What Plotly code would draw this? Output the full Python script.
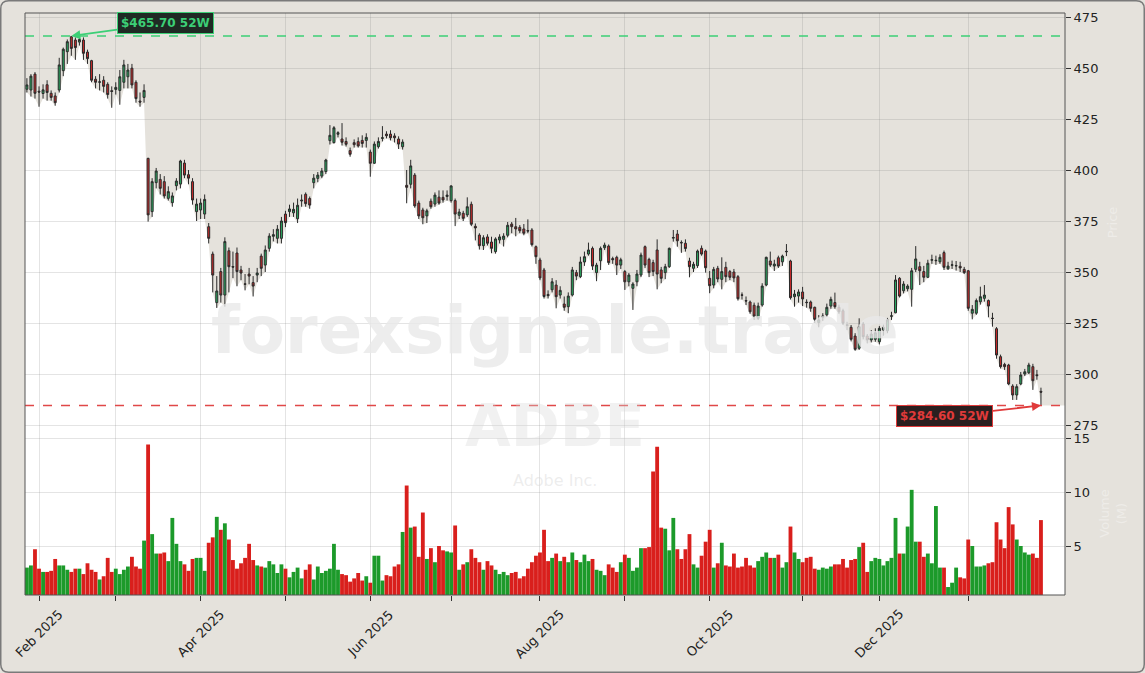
import plotly.graph_objects as go
import pandas as pd

# ---------------- data (ADBE daily) ----------------
opens = [
439.6, 439.2, 447.0, 438.6, 437.5, 441.8, 437.6, 436.3, 439.2, 448.7,
458.0, 465.3, 463.7, 462.7, 463.7, 457.8, 453.6, 444.5, 443.0, 444.0,
442.0, 438.9, 439.5, 439.0, 443.0, 445.7, 449.9, 443.0, 433.8, 435.6,
405.7, 379.6, 393.8, 395.4, 394.3, 386.1, 384.0, 392.3, 393.1, 403.4,
397.7, 394.3, 379.6, 380.4, 378.4, 372.2, 358.8, 335.0, 350.2, 338.7,
360.4, 352.7, 359.3, 351.0, 344.2, 349.0, 344.8, 348.5, 357.8, 353.4,
361.6, 367.5, 366.5, 366.5, 378.4, 379.6, 379.0, 376.1, 384.8, 388.1,
386.0, 393.8, 395.9, 397.0, 399.2, 414.4, 413.4, 417.5, 415.2, 414.0,
409.5, 413.4, 413.9, 414.5, 414.5, 408.8, 403.3, 411.4, 415.5, 417.6,
417.6, 416.7, 415.2, 411.4, 392.5, 393.0, 397.5, 383.8, 380.4, 377.5,
384.7, 383.3, 386.7, 386.6, 387.0, 385.0, 385.0, 377.8, 378.8, 378.0,
383.2, 372.4, 368.1, 362.9, 367.2, 364.7, 360.0, 365.7, 366.0, 368.0,
373.5, 372.2, 371.9, 371.1, 370.3, 370.6, 362.4, 355.9, 351.0, 339.0,
341.3, 343.6, 338.7, 334.3, 333.0, 338.7, 349.7, 347.7, 354.9, 358.8,
361.6, 349.7, 355.5, 361.9, 362.7, 356.6, 357.2, 353.4, 350.2, 345.2,
342.0, 345.2, 348.5, 362.4, 356.2, 354.6, 360.8, 351.0, 349.7, 352.6,
366.6, 368.6, 364.5, 364.1, 355.4, 351.8, 353.1, 361.6, 360.3, 346.9,
343.6, 351.8, 346.4, 352.3, 350.2, 350.0, 347.7, 338.8, 336.0, 335.3,
333.7, 327.3, 333.8, 343.6, 355.4, 352.9, 357.0, 355.0, 359.9, 355.4,
337.9, 338.2, 340.2, 335.2, 335.3, 332.7, 325.2, 327.8, 329.0, 333.3,
335.0, 332.7, 331.0, 324.1, 322.9, 318.6, 312.6, 324.5, 318.6, 316.7,
317.0, 315.8, 321.6, 321.2, 328.3, 330.0, 346.9, 340.8, 341.8, 341.5,
351.3, 352.6, 350.2, 347.4, 355.8, 355.5, 355.0, 359.5, 351.6, 353.3,
353.0, 352.8, 351.3, 350.6, 329.8, 329.8, 335.4, 337.1, 336.0, 327.4,
322.2, 308.5, 304.7, 304.4, 294.1, 289.7, 295.1, 300.0, 300.6, 303.6,
299.6, 291.5]

highs = [
445, 447, 448, 441, 442, 444, 439, 438, 455, 460,
464, 465.7, 465, 465, 465, 459, 454, 446, 447, 446,
443, 441, 443, 449, 454, 452, 452, 444, 438, 442,
406, 396, 401, 398, 397, 392, 389, 396, 405, 405,
400, 396, 386, 386, 388, 374, 360, 348, 352, 367,
362, 360, 362, 353, 349, 352, 348, 352, 359, 363,
369, 371, 373, 377, 380, 383, 384, 386, 388, 389,
387, 398, 399, 401, 405.5, 422, 421.5, 419, 423, 416,
411, 415, 416, 417, 418, 410, 414, 416, 421.5, 419,
419.5, 418, 416.5, 415, 400, 405, 398.5, 385, 381.5, 381,
386, 389, 390, 390, 390, 392.5, 386, 381, 380, 386.6,
384.5, 373.8, 369, 368, 368.5, 367.3, 367, 368.5, 369, 374.5,
374.5, 376.5, 373, 373.5, 375.8, 371.5, 363, 357, 352, 341,
347, 346, 343, 338, 340, 352.5, 351, 357.5, 360, 364.4,
362.5, 354.5, 362.5, 364.4, 363.5, 357.5, 358, 357, 351, 349.5,
345, 351, 359.5, 363, 357, 356, 366, 352.5, 354, 362,
370.6, 370.6, 365.5, 366, 357, 355, 361, 363, 361, 350.5,
352.5, 353, 357.2, 355, 351, 351.5, 348.5, 340, 338, 336,
335, 335, 344.5, 357.5, 360, 356, 358, 358.5, 363.7, 356,
341.2, 341.5, 342.7, 336.6, 336, 333, 328.9, 329.8, 334.5, 337.9,
339.9, 334, 332, 325.6, 324, 320, 327.3, 325.5, 319.6, 321.5,
322.4, 323.5, 324.2, 327.5, 330.5, 348.5, 347.5, 345.5, 344, 352,
362.7, 355, 353, 356, 358.5, 358, 358.7, 360.5, 355, 355.6,
355.4, 355, 352.5, 351, 333.8, 337, 342.8, 343.6, 336.5, 330,
323, 309.5, 305.5, 305, 295, 295, 301, 302.5, 305.5, 305,
302, 293.3]

lows = [
438, 436, 435, 431, 435, 434, 434, 431.5, 438, 446,
452, 456, 454, 461, 454, 452, 443, 440, 439, 438,
435, 430.5, 437, 432, 440, 440, 440, 433, 431, 433,
374.7, 377, 391, 388, 386, 385, 382, 390, 391, 396,
393, 383, 375, 376, 376, 364, 340, 332.4, 335, 333,
340, 347, 343, 346, 341, 344, 338, 345, 348, 350,
360, 365, 364, 364, 372, 377, 377, 374, 382, 382,
381, 391, 394, 396, 398, 412.5, 413, 416, 412, 411.5,
406.5, 411, 411, 411, 411, 396.7, 403, 410.5, 414, 415.5,
414.5, 413.5, 410.3, 410, 383.7, 391, 381.5, 376, 373.4, 374,
381, 382, 383, 384, 385, 384, 372.5, 376, 375, 377,
372.5, 365.5, 361, 360.8, 363, 359.2, 359, 364, 362.5, 367,
369, 367.5, 369, 368, 369, 362.5, 354, 346, 337, 337,
340, 332.2, 337, 331, 329.8, 338, 346, 347, 353, 358,
351, 345.5, 351, 360.8, 353.5, 354, 348.5, 351.5, 341.2, 343,
331.4, 343, 347.5, 352, 347.5, 348, 341.5, 344.5, 346.5, 352,
364.9, 362.4, 359.4, 360, 347.4, 350, 352, 358, 349.7, 339.6,
342, 345, 341.5, 345, 346, 345, 336, 336.5, 333.8, 329.5,
326.5, 326.5, 333, 343, 352.5, 350.5, 352, 353, 357.8, 336.5,
333, 335, 333.3, 332.5, 330.5, 325, 322.9, 326, 328, 332,
332, 329.5, 324, 321.5, 316, 311.4, 311.8, 317, 315, 315.5,
315.8, 314.5, 318.8, 320, 326.5, 329.8, 337.5, 339.5, 340.5, 333,
350, 343.6, 345, 347, 354, 353.5, 354, 351, 351, 351.5,
350.7, 350, 349, 331, 326.8, 329, 334, 335.5, 327.8, 323.2,
307.5, 302.7, 302, 294.5, 287.3, 287.3, 294.5, 299, 300, 292.2,
297.2, 284.6]

closes = [
441.7, 446.0, 437.6, 438.2, 439.3, 438.0, 435.6, 433.0, 451.5, 459.2,
462.9, 459.6, 460.0, 464.0, 457.2, 454.6, 444.0, 443.0, 443.2, 441.0,
437.0, 438.5, 440.5, 445.7, 451.5, 449.0, 441.7, 435.0, 433.3, 439.0,
378.0, 394.3, 399.5, 391.0, 387.3, 389.4, 387.3, 394.6, 404.4, 397.5,
396.0, 385.3, 383.3, 383.8, 385.6, 366.5, 348.5, 340.7, 338.7, 364.9,
352.6, 352.4, 350.2, 349.5, 344.0, 348.0, 343.1, 349.5, 351.8, 360.8,
367.6, 368.3, 371.0, 375.0, 374.2, 380.9, 380.7, 382.7, 385.2, 383.5,
382.8, 396.0, 397.5, 399.5, 404.9, 417.0, 420.7, 418.3, 413.6, 412.6,
407.7, 412.4, 411.8, 413.0, 416.0, 403.3, 412.7, 414.0, 415.8, 416.8,
415.8, 415.8, 412.7, 413.7, 391.5, 402.0, 382.4, 377.5, 376.6, 380.0,
382.0, 387.7, 383.8, 385.3, 387.7, 392.2, 378.4, 379.4, 376.3, 382.0,
373.4, 371.6, 362.9, 366.8, 364.1, 361.6, 366.2, 367.2, 367.6, 372.9,
372.2, 371.1, 370.2, 369.0, 370.1, 363.4, 357.5, 347.1, 338.0, 338.4,
345.2, 337.9, 341.0, 332.7, 338.2, 351.0, 348.0, 354.9, 357.5, 360.8,
352.9, 353.4, 361.6, 363.2, 354.6, 356.0, 353.4, 356.0, 345.2, 348.5,
344.1, 349.0, 358.3, 353.4, 349.7, 350.2, 349.0, 346.9, 352.6, 361.6,
366.9, 365.3, 364.3, 361.5, 352.6, 353.8, 360.3, 358.8, 352.1, 343.3,
351.3, 346.6, 350.2, 347.7, 347.4, 347.1, 336.9, 338.6, 335.8, 330.5,
328.4, 333.3, 343.1, 357.2, 353.4, 353.9, 352.9, 357.8, 360.1, 337.4,
339.2, 340.2, 336.8, 335.0, 332.2, 326.8, 326.5, 328.4, 332.7, 336.6,
333.0, 330.5, 324.9, 323.9, 317.0, 312.1, 323.2, 318.3, 316.7, 319.6,
320.2, 322.4, 322.9, 326.5, 328.5, 346.1, 338.2, 344.1, 343.1, 350.6,
356.4, 350.6, 347.4, 354.3, 356.0, 355.7, 357.2, 352.3, 352.9, 353.5,
353.1, 352.0, 349.7, 332.2, 331.7, 336.0, 337.9, 338.7, 333.3, 327.2,
309.3, 303.6, 303.6, 295.1, 289.7, 293.8, 299.5, 301.1, 304.4, 296.7,
299.2, 291.1]

# volume in millions of shares
volumes = [
3.0, 3.2, 4.7, 2.9, 2.6, 2.6, 2.7, 3.8, 3.2, 3.2,
2.8, 2.6, 2.9, 2.9, 2.4, 3.4, 2.8, 2.6, 1.9, 2.2,
3.9, 2.6, 2.9, 2.4, 2.8, 3.1, 4.0, 3.1, 2.9, 5.5,
14.4, 6.1, 4.3, 4.3, 4.4, 3.6, 7.6, 5.2, 3.6, 3.3,
2.7, 3.8, 3.9, 3.9, 2.7, 5.3, 5.8, 7.7, 6.5, 7.1,
5.6, 3.7, 2.9, 3.4, 3.9, 5.2, 3.7, 3.2, 3.1, 3.0,
3.6, 3.3, 2.5, 3.3, 2.9,
2.1, 2.6, 3.0, 2.0, 2.8, 3.3, 1.9, 3.1, 2.5, 2.7,
2.9, 5.2, 2.8, 2.4, 2.3, 1.7, 2.0, 2.5, 1.8, 2.2,
1.6, 4.1, 4.1, 1.8, 2.3, 2.2, 3.1, 3.3, 6.3,
10.6, 6.7, 6.8, 4.0, 8.1, 3.8, 4.8, 3.5, 5.0, 4.6,
4.5, 4.4, 6.9, 2.8, 3.3, 3.5, 4.7, 3.9, 3.5, 2.8,
3.6, 3.2, 2.8, 2.4, 2.6, 2.3, 2.5, 2.6, 2.0, 2.2,
2.9, 3.5, 4.1, 4.4, 6.5, 3.6, 3.9,
4.3, 3.6, 4.0, 3.5, 4.4, 3.7, 3.5, 4.2, 3.6, 3.8,
2.8, 2.7, 2.3, 3.3, 3.0, 2.6, 3.5, 4.2, 3.9, 2.7,
3.0, 4.8, 4.8, 4.9, 11.9, 14.2, 6.7, 6.6, 4.6, 7.6,
4.7, 3.8, 4.7, 6.1, 3.3, 3.0, 4.1, 5.4, 6.5, 3.0,
3.4, 5.3, 3.2, 3.1, 4.3, 3.0, 3.1, 3.9, 3.2, 3.0,
3.6, 4.0, 4.4, 3.9, 3.9, 4.2, 3.0, 3.5, 6.8,
4.4, 3.8, 3.5, 3.9, 4.0, 2.9, 2.8, 3.0, 2.9, 3.1,
3.3, 3.3, 3.8, 3.0, 3.7, 3.8, 4.9, 5.3, 2.6, 3.6,
3.9, 3.8, 3.2, 3.6, 3.9, 7.6, 4.3, 4.3, 6.8, 10.2,
5.4, 5.4, 4.0, 4.3, 3.4, 8.7, 3.0, 3.0, 1.2, 1.6,
3.0, 2.1, 2.0, 5.6, 5.0, 3.1, 3.1, 3.2, 3.4, 3.5,
7.2, 5.6, 4.8, 8.6, 7.0, 5.6, 5.0, 4.4, 4.2, 4.3,
3.9, 7.4]

holidays = ["2025-02-17", "2025-04-18", "2025-05-26", "2025-06-19", "2025-07-04",
            "2025-09-01", "2025-11-27", "2025-12-25", "2026-01-01", "2026-01-19"]
high_52w = 465.70
low_52w = 284.60
ticker = "ADBE"
company = "Adobe Inc."
watermark = "forexsignale.trade"

# ---------------- derived ----------------
n = len(closes)
dates = pd.bdate_range("2025-01-29", "2026-01-29", freq="C", holidays=holidays)[:n]
idx = list(range(n))

tickvals, ticklabels = [], []
prev = None
for i, d in enumerate(dates):
    key = (d.year, d.month)
    if key != prev:
        if i > 0:
            tickvals.append(i)
            ticklabels.append(d.strftime("%b %Y") if d.month % 2 == 0 else "")
        prev = key

GREEN_V, RED_V = "#1c9a2a", "#d91f1c"
vol_colors = [GREEN_V if c >= o else RED_V for o, c in zip(opens, closes)]

# pixel geometry helpers (figure 1145x673, plot area x 25..1065, y 13..595)
W, H = 1145, 673
L, R, T, B = 25, 80, 13, 78
PW, PH = W - L - R, H - T - B
def px(x):
    return (x - L) / PW
def py(y):
    return (H - B - y) / PH

split = py(432)
X_RANGE = [-0.47, 256.95]
Y_RANGE = [271.57, 476.96]
V_RANGE = [0.463, 15.556]

BEIGE = "#e5e2dc"
GRID = "rgba(130,130,130,0.22)"
FONT = "DejaVu Sans"

fig = go.Figure()

fig.add_trace(go.Candlestick(
    x=idx, open=opens, high=highs, low=lows, close=closes,
    increasing=dict(line=dict(color="#2a2a2a", width=1), fillcolor="#2aa860"),
    decreasing=dict(line=dict(color="#2a2a2a", width=1), fillcolor="#c62a2a"),
    whiskerwidth=0, xaxis="x", yaxis="y", showlegend=False, hoverinfo="skip"))

fig.add_trace(go.Bar(
    x=idx, y=volumes, marker=dict(color=vol_colors, line=dict(width=0)),
    xaxis="x2", yaxis="y2", showlegend=False, hoverinfo="skip"))

# white area under the lows (main pane)
pts = [(X_RANGE[0], lows[0])] + list(zip(idx, lows)) + [(X_RANGE[1], lows[-1])]
path = f"M {X_RANGE[0]},{Y_RANGE[0]} " + " ".join(f"L {x},{y}" for x, y in pts) + f" L {X_RANGE[1]},{Y_RANGE[0]} Z"

shapes = [
    dict(type="rect", xref="x domain", yref="y domain", x0=0, x1=1, y0=0, y1=1,
         fillcolor=BEIGE, line=dict(width=0), layer="below"),
    dict(type="path", xref="x", yref="y", path=path, fillcolor="white",
         line=dict(width=0), layer="below"),
    dict(type="line", xref="x domain", yref="y", x0=0, x1=1, y0=high_52w, y1=high_52w,
         line=dict(color="#3ccf76", width=1.5, dash="dash")),
    dict(type="line", xref="x domain", yref="y", x0=0, x1=1, y0=low_52w, y1=low_52w,
         line=dict(color="#e04848", width=1.5, dash="dash")),
    dict(type="rect", xref="paper", yref="paper", x0=0, x1=1, y0=0, y1=1,
         line=dict(color="#555555", width=1), fillcolor="rgba(0,0,0,0)"),
]
# rounded outer frame
r = 8
x0, x1, y0, y1 = 0.75, W - 0.75, 0.75, H - 0.75
fp = (f"M {px(x0+r)},{py(y0)} L {px(x1-r)},{py(y0)} Q {px(x1)},{py(y0)} {px(x1)},{py(y0+r)} "
      f"L {px(x1)},{py(y1-r)} Q {px(x1)},{py(y1)} {px(x1-r)},{py(y1)} "
      f"L {px(x0+r)},{py(y1)} Q {px(x0)},{py(y1)} {px(x0)},{py(y1-r)} "
      f"L {px(x0)},{py(y0+r)} Q {px(x0)},{py(y0)} {px(x0+r)},{py(y0)} Z")
shapes.append(dict(type="path", xref="paper", yref="paper", path=fp,
                   line=dict(color="#7a7a7a", width=1.5), fillcolor="rgba(0,0,0,0)"))

hi_i = max(idx, key=lambda i: highs[i])
lo_i = min(idx, key=lambda i: lows[i])

annotations = [
    dict(xref="paper", yref="paper", x=px(555), y=py(330), text=f"<b>{watermark}</b>",
         showarrow=False, font=dict(family=FONT, size=66, color="rgba(233,233,233,0.8)")),
    dict(xref="paper", yref="paper", x=px(555), y=py(462), text=f"<b>{ticker}</b>",
         showarrow=False, font=dict(family=FONT, size=59, color="rgba(215,215,215,0.35)")),
    dict(xref="paper", yref="paper", x=px(555), y=py(492), text=company,
         showarrow=False, font=dict(family=FONT, size=16, color="rgba(215,215,215,0.45)")),
    dict(xref="x", yref="y", x=hi_i, y=highs[hi_i], ax=94, ay=-13,
         text=f"<b>${high_52w:.2f} 52W</b>", showarrow=True, arrowhead=2, arrowsize=1,
         arrowwidth=1.8, arrowcolor="#3ccf76",
         font=dict(family=FONT, size=12, color="#3ccf76"),
         bgcolor="#1f2a24", bordercolor="#3ccf76", borderwidth=1, borderpad=3),
    dict(xref="x", yref="y", x=lo_i, y=lows[lo_i], ax=-96, ay=11,
         text=f"<b>${low_52w:.2f} 52W</b>", showarrow=True, arrowhead=2, arrowsize=1,
         arrowwidth=1.8, arrowcolor="#e03a3a",
         font=dict(family=FONT, size=12, color="#e03a3a"),
         bgcolor="#2a1f1f", bordercolor="#e03a3a", borderwidth=1, borderpad=3),
]
for tv, tl in zip(tickvals, ticklabels):
    if tl:
        annotations.append(dict(xref="x2", yref="paper", x=tv, y=py(633.5), text=tl,
                                textangle=-45, showarrow=False, xanchor="center", yanchor="middle",
                                font=dict(family=FONT, size=13, color="#222222")))

fig.update_layout(
    width=W, height=H,
    margin=dict(l=L, r=R, t=T, b=B, autoexpand=False),
    paper_bgcolor=BEIGE, plot_bgcolor="white",
    font=dict(family=FONT, size=13, color="#222222"),
    showlegend=False, bargap=0.05,
    shapes=shapes, annotations=annotations,
    xaxis=dict(domain=[0, 1], anchor="y", range=X_RANGE, tickmode="array", tickvals=tickvals,
               showticklabels=False, ticks="", showgrid=True, gridcolor=GRID, zeroline=False,
               showline=False, rangeslider=dict(visible=False)),
    xaxis2=dict(domain=[0, 1], anchor="y2", range=X_RANGE, matches="x", tickmode="array",
                tickvals=tickvals, showticklabels=False, ticks="outside", ticklen=5,
                tickcolor="#333333", showgrid=True, gridcolor=GRID, zeroline=False, showline=False),
    yaxis=dict(domain=[split, 1], anchor="x", side="right", range=Y_RANGE, tickmode="array",
               tickvals=[275, 300, 325, 350, 375, 400, 425, 450, 475], ticks="outside", ticklen=5,
               tickcolor="#333333", showgrid=True, gridcolor=GRID, zeroline=False, showline=False,
               tickfont=dict(size=13, color="#222222"),
               title=dict(text="Price", standoff=10,
                          font=dict(size=13, color="rgba(255,255,255,0.35)"))),
    yaxis2=dict(domain=[0, split], anchor="x2", side="right", range=V_RANGE, tickmode="array",
                tickvals=[5, 10, 15], ticks="outside", ticklen=5, tickcolor="#333333",
                showgrid=True, gridcolor=GRID, zeroline=False, showline=False,
                tickfont=dict(size=13, color="#222222"),
                title=dict(text="Volume<br>(M)", standoff=10,
                           font=dict(size=13, color="rgba(255,255,255,0.35)"))),
)

fig.write_html("out.html", config={"displayModeBar": False},
               post_script="document.body.style.margin='0';document.body.style.overflow='hidden';")
